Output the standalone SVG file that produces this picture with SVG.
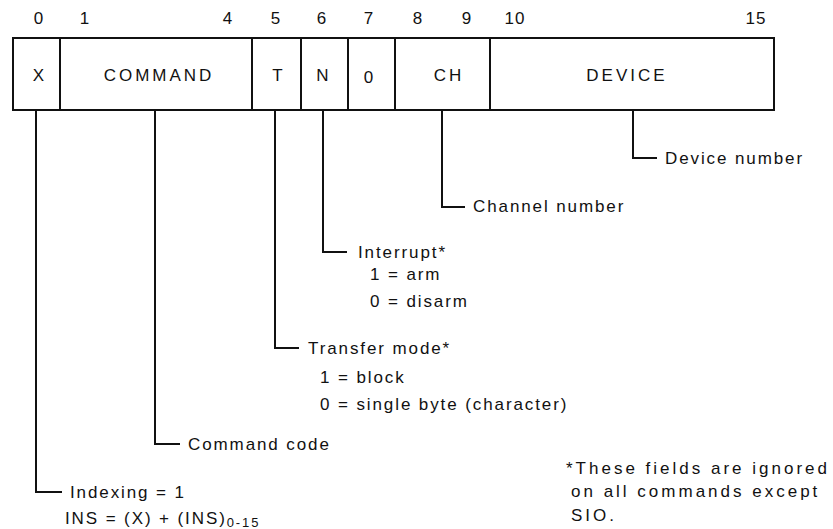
<svg xmlns="http://www.w3.org/2000/svg" width="833" height="529" viewBox="0 0 833 529">
<style>
text{font-family:"Liberation Sans",Arial,sans-serif;fill:#111}
.bit{font-size:17px;text-anchor:middle;letter-spacing:1px}
.fld{font-size:17px;text-anchor:middle;letter-spacing:3px}
.lbl{font-size:17px;letter-spacing:1.9px}
.fn{font-size:17px;letter-spacing:3px}
.box{fill:#fff;stroke:#111;stroke-width:2}
.div{stroke:#111;stroke-width:2}
.con{fill:none;stroke:#111;stroke-width:2}
</style>
<rect width="833" height="529" fill="#fff"/>
<g id="bits">
<text class="bit" x="39" y="24">0</text>
<text class="bit" x="85" y="24">1</text>
<text class="bit" x="228" y="24">4</text>
<text class="bit" x="276" y="24">5</text>
<text class="bit" x="322" y="24">6</text>
<text class="bit" x="369" y="24">7</text>
<text class="bit" x="418" y="24">8</text>
<text class="bit" x="467" y="24">9</text>
<text class="bit" x="515" y="24">10</text>
<text class="bit" x="756" y="24">15</text>
</g>
<g id="word">
<rect class="box" x="13" y="38" width="761" height="72"/>
<line class="div" x1="60" y1="38" x2="60" y2="110"/>
<line class="div" x1="252" y1="38" x2="252" y2="110"/>
<line class="div" x1="301" y1="38" x2="301" y2="110"/>
<line class="div" x1="348" y1="38" x2="348" y2="110"/>
<line class="div" x1="395" y1="38" x2="395" y2="110"/>
<line class="div" x1="490" y1="38" x2="490" y2="110"/>
</g>
<g id="field-x"><text class="fld" x="40" y="81">X</text></g>
<g id="field-command"><text class="fld" x="159" y="81">COMMAND</text></g>
<g id="field-t"><text class="fld" x="279" y="81">T</text></g>
<g id="field-n"><text class="fld" x="324" y="81">N</text></g>
<g id="field-0"><text class="fld" x="370" y="83">0</text></g>
<g id="field-ch"><text class="fld" x="449" y="81">CH</text></g>
<g id="field-device"><text class="fld" x="627" y="81">DEVICE</text></g>
<g id="connectors">
<path class="con" d="M36 110V492H62"/>
<path class="con" d="M155 110V444H180"/>
<path class="con" d="M275 110V348H299"/>
<path class="con" d="M323 110V252H347"/>
<path class="con" d="M442 110V207H465"/>
<path class="con" d="M633 110V158H657"/>
</g>
<g id="note-device"><text class="lbl" x="665" y="164">Device number</text></g>
<g id="note-channel"><text class="lbl" x="473" y="212">Channel number</text></g>
<g id="note-interrupt">
<text class="lbl" x="358" y="258">Interrupt*</text>
<text class="lbl" x="370" y="280">1 = arm</text>
<text class="lbl" x="370" y="307">0 = disarm</text>
</g>
<g id="note-transfer">
<text class="lbl" x="308" y="354">Transfer mode*</text>
<text class="lbl" x="320" y="383">1 = block</text>
<text class="lbl" x="320" y="410">0 = single byte (character)</text>
</g>
<g id="note-command"><text class="lbl" x="188" y="450">Command code</text></g>
<g id="note-index">
<text class="lbl" x="70" y="498">Indexing = 1</text>
<text class="lbl" x="65" y="524">INS = (X) + (INS)<tspan font-size="13" dy="3">0-15</tspan></text>
</g>
<g id="footnote">
<text class="fn" x="566" y="474">*These fields are ignored</text>
<text class="fn" x="571" y="497">on all commands except</text>
<text class="fn" x="571" y="521">SIO.</text>
</g>
</svg>
